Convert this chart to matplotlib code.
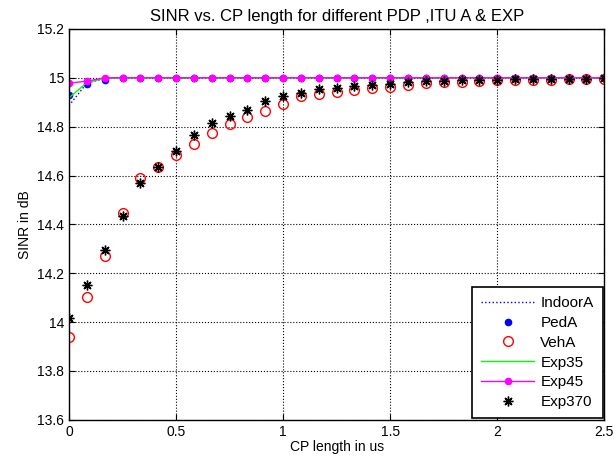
import numpy as np
import matplotlib
matplotlib.use('Agg')
import matplotlib.pyplot as plt
from matplotlib.ticker import FormatStrFormatter

# CP length in us, 31 points (step 1/12)
cp = np.linspace(0, 2.5, 31)

indoorA = [14.886, 14.978, 14.997] + [15.0] * 28
pedA = [14.93, 14.975, 14.992, 14.997] + [15.0] * 27
exp35 = [14.918, 14.980, 14.998] + [15.0] * 28
exp45 = [14.978, 14.986] + [15.0] * 29

vehA = [13.94, 14.103, 14.27, 14.445, 14.59, 14.635, 14.685, 14.73, 14.775,
        14.81, 14.84, 14.866, 14.893, 14.924, 14.932, 14.941, 14.951, 14.959,
        14.962, 14.969, 14.978, 14.982, 14.982, 14.986, 14.989, 14.990,
        14.991, 14.992, 14.993, 14.994, 14.995]
exp370 = [14.017, 14.153, 14.295, 14.434, 14.57, 14.635, 14.70, 14.765, 14.815,
          14.845, 14.87, 14.904, 14.924, 14.937, 14.952, 14.959, 14.966, 14.971,
          14.975, 14.982, 14.986, 14.986, 14.989, 14.992, 14.992, 14.993,
          14.994, 14.995, 14.995, 14.996, 14.997]


def main():
    plt.rcParams['font.family'] = ['Liberation Sans', 'DejaVu Sans']
    plt.rcParams['font.size'] = 10

    fig = plt.figure(figsize=(6.16, 4.66), dpi=100)
    ax = fig.add_axes([0.112, 0.099, 0.869, 0.839])

    ax.plot(cp, indoorA, color='blue', linestyle=':', linewidth=1, label='IndoorA')
    ax.plot(cp, pedA, color='blue', linestyle='none', marker='o', markersize=4.5, label='PedA')
    ax.plot(cp, vehA, color='red', linestyle='none', marker='o', markersize=7,
            markerfacecolor='none', markeredgewidth=1, label='VehA')
    ax.plot(cp, exp35, color='#00ff00', linewidth=1, label='Exp35')
    ax.plot(cp, exp45, color='magenta', linewidth=1, marker='o', markersize=4.5, label='Exp45')
    ax.plot(cp, exp370, color='black', linestyle='none', marker=(8, 2, 0), markersize=7,
            markeredgewidth=1, label='Exp370')

    ax.set_xlim(0, 2.5)
    ax.set_ylim(13.6, 15.2)
    ax.set_xticks(np.arange(0, 2.51, 0.5))
    ax.set_yticks(np.arange(13.6, 15.21, 0.2))
    ax.xaxis.set_major_formatter(FormatStrFormatter('%g'))
    ax.yaxis.set_major_formatter(FormatStrFormatter('%g'))
    ax.tick_params(direction='in', top=True, right=True, length=4)
    ax.grid(True, color='black', linestyle=':', linewidth=0.8)
    for s in ax.spines.values():
        s.set_linewidth(1)

    ax.set_xlabel('CP length in us', labelpad=1)
    ax.set_ylabel('SINR in dB', labelpad=4)
    ax.set_title('SINR vs. CP length for different PDP ,ITU A & EXP', pad=6)

    leg = ax.legend(loc='lower right', fancybox=False, framealpha=1, edgecolor='black',
                    fontsize=11, borderaxespad=0.1, handlelength=3.5, labelspacing=0.38,
                    borderpad=0.6, handletextpad=0.4)
    leg.get_frame().set_linewidth(1.2)

    fig.savefig('out.png', dpi=100)


if __name__ == '__main__':
    main()
